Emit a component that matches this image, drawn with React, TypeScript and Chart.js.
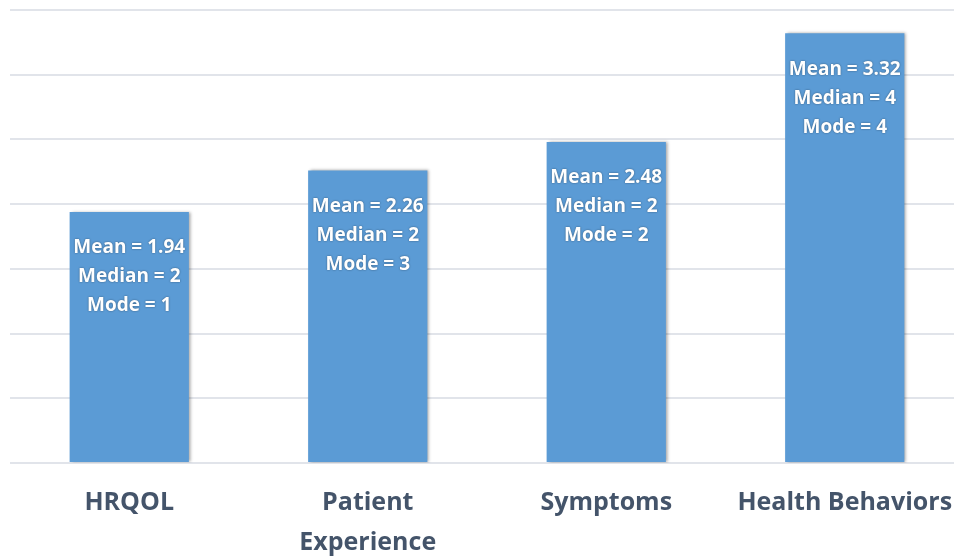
import React, { useEffect, useRef } from "react";
import { Chart, registerables } from "chart.js";

Chart.register(...registerables);

const categories: (string | string[])[] = ["HRQOL", ["Patient", "Experience"], "Symptoms", "Health Behaviors"];
const meanValues = [1.94, 2.26, 2.48, 3.32];
const medianValues = [2, 2, 2, 4];
const modeValues = [1, 3, 2, 4];

const BAR_COLOR = "#5b9bd5";
const TEXT_COLOR = "#44546a";
const FONT = "'Open Sans', Lato, sans-serif";

const barShadowPlugin = {
  id: "barShadow",
  beforeDatasetsDraw(chart: any) {
    const ctx = chart.ctx;
    ctx.save();
    ctx.shadowColor = "rgba(0,0,0,0.35)";
    ctx.shadowOffsetX = 2;
    ctx.shadowOffsetY = 0;
    ctx.shadowBlur = 3;
  },
  afterDatasetsDraw(chart: any) {
    chart.ctx.restore();
  },
};

const statLabelsPlugin = {
  id: "statLabels",
  afterDatasetsDraw(chart: any) {
    const ctx = chart.ctx;
    const meta = chart.getDatasetMeta(0);
    ctx.save();
    ctx.font = `bold 19px ${FONT}`;
    ctx.fillStyle = "#ffffff";
    ctx.textAlign = "center";
    ctx.textBaseline = "middle";
    ctx.shadowColor = "rgba(0,0,0,0.45)";
    ctx.shadowBlur = 2;
    meta.data.forEach((bar: any, i: number) => {
      const lines = [
        `Mean = ${meanValues[i].toFixed(2)}`,
        `Median = ${medianValues[i]}`,
        `Mode = ${modeValues[i]}`,
      ];
      lines.forEach((t, j) => {
        ctx.fillText(t, bar.x, bar.y + 36 + j * 29);
      });
    });
    ctx.restore();
  },
};

export default function App() {
  const ref = useRef<HTMLCanvasElement | null>(null);
  useEffect(() => {
    if (!ref.current) return;
    const chart = new Chart(ref.current, {
      type: "bar",
      data: {
        labels: categories as any,
        datasets: [
          {
            data: meanValues,
            backgroundColor: BAR_COLOR,
            borderWidth: 0,
            barPercentage: 0.5,
            categoryPercentage: 1,
          },
        ],
      },
      options: {
        animation: false,
        responsive: false,
        layout: { padding: { left: 10, top: 10, right: 11, bottom: 0 } },
        plugins: { legend: { display: false }, tooltip: { enabled: false } },
        scales: {
          x: {
            grid: { display: false },
            border: { display: false },
            ticks: {
              color: TEXT_COLOR,
              font: { family: FONT, size: 25, weight: "bold", lineHeight: 1.6 },
              padding: 12,
              maxRotation: 0,
              autoSkip: false,
            },
            afterFit(scale: any) {
              scale.height = 95;
            },
          },
          y: {
            min: 0,
            max: 3.5,
            ticks: { display: false, stepSize: 0.5 },
            border: { display: false },
            grid: { color: "#e1e4ea", lineWidth: 2, drawTicks: false },
            afterFit(scale: any) {
              scale.width = 0;
            },
          },
        },
      },
      plugins: [barShadowPlugin, statLabelsPlugin],
    });
    return () => chart.destroy();
  }, []);

  return (
    <div
      style={{
        position: "fixed",
        left: 0,
        top: 0,
        width: 954,
        height: 558,
        overflow: "hidden",
        background: "#ffffff",
      }}
    >
      <canvas ref={ref} width={975} height={558} style={{ width: 975, height: 558, display: "block" }} />
    </div>
  );
}
